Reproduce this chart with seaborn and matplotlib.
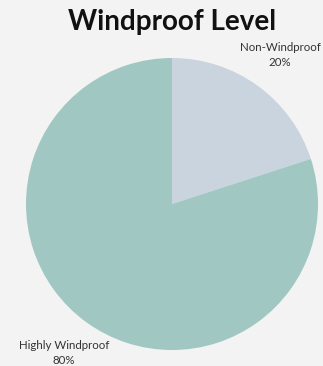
import matplotlib
matplotlib.use("Agg")
import matplotlib.pyplot as plt
import seaborn as sns

# data
levels = ["Non-Windproof", "Highly Windproof"]
shares = [20, 80]
slice_colors = ["#c9d4de", "#a0c7c2"]

sns.set_style("white")
plt.rcParams['font.family'] = ['Lato', 'DejaVu Sans']

fig = plt.figure(figsize=(3.23, 3.66), dpi=100)
fig.patch.set_facecolor("#f3f3f3")
ax = fig.add_axes([26 / 323, 1 - 350 / 366, 292 / 323, 292 / 366])
ax.set_facecolor("#f3f3f3")

labels = [f"{name}\n{val}%" for name, val in zip(levels, shares)]
wedges, texts = ax.pie(shares, colors=slice_colors, startangle=90, counterclock=False,
                       labels=labels, labeldistance=1.26,
                       wedgeprops={"linewidth": 0, "edgecolor": "none"},
                       textprops={"fontsize": 8.3, "color": "#333333", "va": "center",
                                  "linespacing": 1.45})
for t in texts:
    t.set_horizontalalignment("center")
ax.set_xlim(-1, 1)
ax.set_ylim(-1, 1)
ax.set_aspect("equal")

fig.text(172 / 323, 1 - 22 / 366, "Windproof Level", ha="center", va="center",
         fontsize=20, fontweight="bold", color="#111111")

fig.savefig("out.png", dpi=100, facecolor=fig.get_facecolor())
